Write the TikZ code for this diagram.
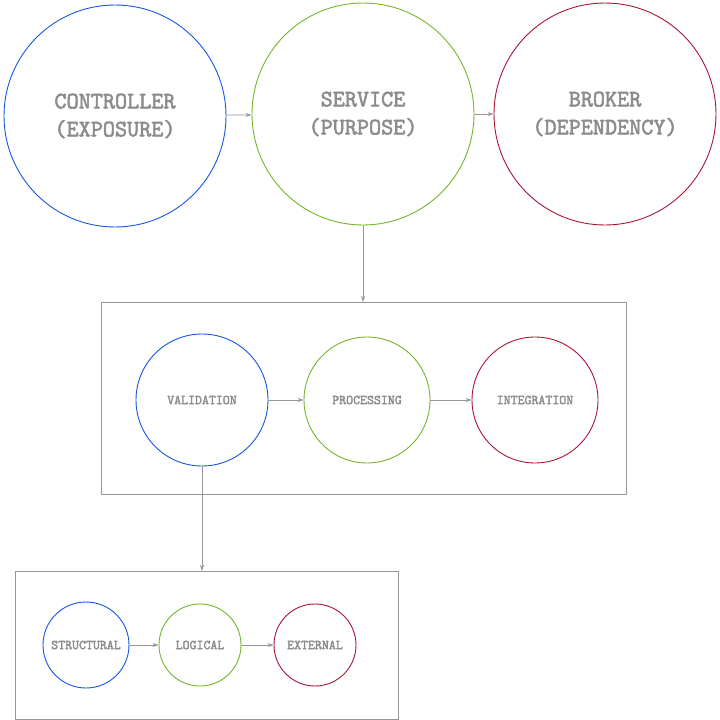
\documentclass[tikz,border=0pt]{standalone}
\usepackage{fontspec}
\setmonofont{Latin Modern Mono}[FakeBold=2.5]
\usetikzlibrary{arrows.meta}
\definecolor{cb}{RGB}{20,85,225}
\definecolor{cg}{RGB}{115,180,40}
\definecolor{cr}{RGB}{170,20,50}
\definecolor{tx}{RGB}{140,140,140}
\definecolor{ln}{RGB}{150,150,150}
\begin{document}
\begin{tikzpicture}[x=1pt,y=-1pt,
  circ/.style={circle,draw,line width=0.9pt,inner sep=0pt,text=tx,align=center},
  big/.style={circ,minimum size=222pt,font=\ttfamily\bfseries\fontsize{23.5}{28}\selectfont},
  mid/.style={circ,minimum size=128pt,font=\ttfamily\bfseries\fontsize{13.5}{14}\selectfont},
  sml/.style={circ,minimum size=84pt,font=\ttfamily\bfseries\fontsize{13.5}{14}\selectfont},
  box/.style={draw=ln,line width=0.8pt},
  arr/.style={draw=ln,line width=0.8pt,-{Stealth[length=6pt,width=4pt]}}]
\useasboundingbox (0,0) rectangle (720,720);
\node[big,draw=cb] (c) at (115,116) {CONTROLLER\\(EXPOSURE)};
\node[big,draw=cg] (s) at (363,114) {SERVICE\\(PURPOSE)};
\node[big,draw=cr] (b) at (605,114) {BROKER\\(DEPENDENCY)};
\draw[arr] (c) -- (s);
\draw[arr] (s) -- (b);
\draw[box] (101,302) rectangle (626,494);
\coordinate (t1) at (363,302);
\draw[arr] (s) -- (t1);
\node[mid,draw=cb,minimum size=132pt] (v) at (202,400) {VALIDATION};
\node[mid,draw=cg,minimum size=126pt] (p) at (367,400) {PROCESSING};
\node[mid,draw=cr,minimum size=126pt] (i) at (535,400) {INTEGRATION};
\draw[arr] (v) -- (p);
\draw[arr] (p) -- (i);
\draw[box] (15,571) rectangle (398,719);
\coordinate (t2) at (202,571);
\draw[arr] (v) -- (t2);
\node[sml,draw=cb,minimum size=86pt] (st) at (86,645) {STRUCTURAL};
\node[sml,draw=cg,minimum size=82pt] (lo) at (200,645) {LOGICAL};
\node[sml,draw=cr,minimum size=82pt] (ex) at (315,645) {EXTERNAL};
\draw[arr] (st) -- (lo);
\draw[arr] (lo) -- (ex);
\end{tikzpicture}
\end{document}
